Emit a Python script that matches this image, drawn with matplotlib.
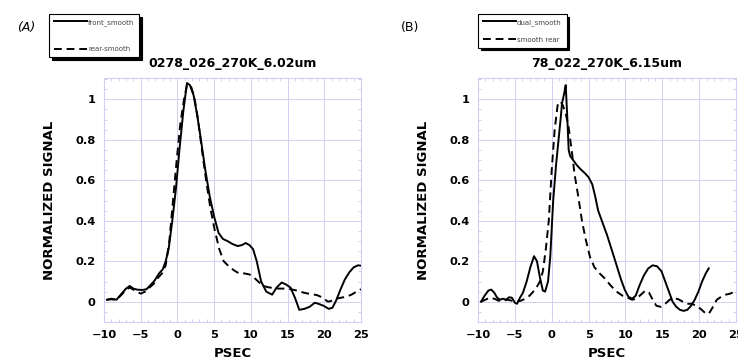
import matplotlib
matplotlib.use("Agg")
import matplotlib.pyplot as plt
from matplotlib.ticker import MultipleLocator, FixedLocator, FixedFormatter

# ---------------- data ----------------
a_title = "0278_026_270K_6.02um"
b_title = "78_022_270K_6.15um"
x_label = "PSEC"
y_label = "NORMALIZED SIGNAL"
x_ticks = [-10, -5, 0, 5, 10, 15, 20, 25]
y_ticks = [0, 0.2, 0.4, 0.6, 0.8, 1.0]
y_tick_labels = ["0", "0.2", "0.4", "0.6", "0.8", "1"]

a_front_x = [-9.6, -9.0, -8.3, -7.6, -7.0, -6.5, -6.0, -5.5, -4.8, -4.2, -3.6, -3.1, -2.5, -2.0,
             -1.6, -1.2, -0.7, -0.2, 0.3, 0.8, 1.3, 1.7, 2.2, 2.7, 3.2, 3.8, 4.4, 5.0, 5.6, 6.2,
             6.8, 7.5, 8.2, 8.8, 9.3, 9.8, 10.3, 10.8, 11.4, 12.1, 12.9, 13.5, 14.2, 14.8, 15.4,
             16.0, 16.6, 17.3, 18.0, 18.7, 19.2, 19.9, 20.6, 21.1, 21.6, 22.2, 22.8, 23.4, 24.0,
             24.6, 25.0]
a_front_y = [0.01, 0.015, 0.01, 0.04, 0.065, 0.078, 0.065, 0.06, 0.058, 0.062, 0.085, 0.105, 0.14,
             0.16, 0.2, 0.26, 0.4, 0.56, 0.76, 0.94, 1.08, 1.07, 1.02, 0.92, 0.8, 0.65, 0.52, 0.42,
             0.34, 0.31, 0.3, 0.285, 0.275, 0.28, 0.29, 0.28, 0.26, 0.2, 0.1, 0.05, 0.035, 0.07,
             0.095, 0.085, 0.07, 0.02, -0.04, -0.035, -0.025, -0.005, -0.01, -0.02, -0.035, -0.03,
             0.005, 0.06, 0.11, 0.145, 0.17, 0.18, 0.178]

a_rear_x = [-9.6, -9.0, -8.3, -7.6, -7.0, -6.5, -6.0, -5.5, -5.0, -4.4, -3.8, -3.2, -2.6, -2.1,
            -1.6, -1.1, -0.6, -0.1, 0.4, 0.9, 1.3, 1.8, 2.3, 2.8, 3.3, 3.9, 4.5, 5.1, 5.7, 6.3,
            7.0, 7.7, 8.4, 9.1, 9.8, 10.4, 11.0, 11.6, 12.3, 13.0, 13.8, 14.6, 15.4, 16.3, 17.2,
            18.1, 19.0, 19.8, 20.5, 21.0, 21.6, 22.3, 23.0, 23.7, 24.4, 25.0]
a_rear_y = [0.01, 0.012, 0.01, 0.035, 0.06, 0.07, 0.06, 0.05, 0.04, 0.05, 0.07, 0.09, 0.12, 0.14,
            0.18, 0.3, 0.5, 0.7, 0.88, 1.0, 1.07, 1.07, 1.01, 0.9, 0.76, 0.6, 0.46, 0.35, 0.26,
            0.2, 0.175, 0.155, 0.14, 0.14, 0.135, 0.12, 0.1, 0.08, 0.072, 0.068, 0.065, 0.065,
            0.062, 0.055, 0.045, 0.038, 0.033, 0.02, 0.0, 0.005, 0.015, 0.02, 0.025, 0.035, 0.05,
            0.062]

b_dual_x = [-9.6, -9.1, -8.6, -8.2, -7.8, -7.4, -7.0, -6.6, -6.2, -5.8, -5.4, -5.0, -4.7, -4.3,
            -3.9, -3.4, -2.9, -2.4, -2.0, -1.6, -1.2, -0.9, -0.5, -0.2, 0.2, 0.6, 0.9, 1.2, 1.4,
            1.7, 1.9, 2.1, 2.3, 2.5, 2.9, 3.4, 3.9, 4.5, 5.0, 5.5, 5.9, 6.3, 6.8, 7.5, 8.2, 8.8,
            9.4, 9.9, 10.4, 10.9, 11.4, 11.9, 12.5, 13.1, 13.7, 14.3, 14.9, 15.4, 15.9, 16.4,
            16.9, 17.4, 17.9, 18.4, 18.9, 19.4, 19.9, 20.4, 20.9, 21.3]
b_dual_y = [0.0, 0.03, 0.055, 0.06, 0.045, 0.02, 0.01, 0.015, 0.01, 0.022, 0.02, -0.005, -0.01,
            0.02, 0.045, 0.1, 0.17, 0.225, 0.2, 0.12, 0.055, 0.05, 0.1, 0.22, 0.5, 0.68, 0.79,
            0.9, 0.98, 1.03, 1.07, 0.92, 0.75, 0.72, 0.7, 0.675, 0.655, 0.635, 0.615, 0.58, 0.52,
            0.45, 0.4, 0.33, 0.25, 0.18, 0.11, 0.06, 0.025, 0.015, 0.03, 0.08, 0.13, 0.165, 0.18,
            0.175, 0.15, 0.1, 0.05, 0.0, -0.025, -0.04, -0.045, -0.04, -0.02, 0.01, 0.05, 0.1,
            0.14, 0.165]

b_rear_x = [-9.6, -9.0, -8.4, -7.8, -7.2, -6.6, -6.0, -5.4, -4.8, -4.2, -3.6, -3.0, -2.5, -2.0,
            -1.6, -1.2, -0.8, -0.4, 0.0, 0.4, 0.8, 1.2, 1.5, 1.9, 2.3, 2.7, 3.1, 3.6, 4.1, 4.6,
            5.2, 5.8, 6.5, 7.2, 8.0, 8.8, 9.6, 10.3, 10.9, 11.5, 12.1, 12.7, 13.2, 13.7, 14.2,
            14.8, 15.4, 16.0, 16.6, 17.2, 17.8, 18.4, 19.0, 19.6, 20.2, 20.8, 21.3, 21.8, 22.4,
            23.0, 23.6, 24.2, 24.8, 25.0]
b_rear_y = [0.0, 0.01, 0.02, 0.015, 0.005, 0.005, 0.01, 0.005, 0.0, 0.005, 0.015, 0.03, 0.05,
            0.075, 0.1, 0.15, 0.26, 0.4, 0.65, 0.85, 0.97, 0.99, 0.97, 0.93, 0.86, 0.75, 0.63,
            0.52, 0.4, 0.31, 0.22, 0.17, 0.14, 0.115, 0.08, 0.05, 0.03, 0.02, 0.01, 0.015, 0.035,
            0.055, 0.045, 0.01, -0.02, -0.025, -0.01, 0.01, 0.018, 0.012, 0.0, -0.01, -0.01, -0.02,
            -0.035, -0.055, -0.06, -0.03, 0.01, 0.025, 0.035, 0.04, 0.05, 0.055]

a_labels = ["front_smooth", "rear-smooth"]
b_labels = ["dual_smooth", "smooth rear"]

# ---------------- style ----------------
plt.rcParams['font.family'] = ['DejaVu Sans']
grid_c = "#d0d0f4"
dash = (0, (4, 2.5))

fig = plt.figure(figsize=(7.38, 3.62), dpi=100)
W, H = 738, 362
axA = fig.add_axes([104 / W, 1 - 322 / H, 257 / W, 244 / H])
axB = fig.add_axes([478 / W, 1 - 322 / H, 258 / W, 244 / H])


def style(ax, title):
    ax.set_xlim(-10, 25)
    ax.set_ylim(-0.1, 1.105)
    ax.xaxis.set_major_locator(FixedLocator(x_ticks))
    ax.xaxis.set_minor_locator(MultipleLocator(1))
    ax.yaxis.set_major_locator(FixedLocator(y_ticks))
    ax.yaxis.set_major_formatter(FixedFormatter(y_tick_labels))
    ax.yaxis.set_minor_locator(MultipleLocator(0.05))
    ax.grid(True, which='major', color=grid_c, lw=0.7)
    ax.tick_params(which='both', direction='in', color=grid_c, top=True, right=True,
                   labelsize=8.2, pad=6)
    ax.tick_params(which='major', length=0)
    ax.tick_params(which='minor', length=2.5, width=0.7)
    for lab in ax.get_xticklabels() + ax.get_yticklabels():
        lab.set_fontweight('bold')
    for s in ax.spines.values():
        s.set_color(grid_c)
        s.set_linewidth(0.8)
    ax.set_title(title, fontsize=9, fontweight='bold', pad=8)
    ax.set_xlabel(x_label, fontsize=9.5, fontweight='bold', labelpad=5)
    ax.set_ylabel(y_label, fontsize=9.5, fontweight='bold', labelpad=14)


def add_legend(ax, handles, labels, left, spacing):
    leg = ax.legend(handles, labels, loc='upper left',
                    bbox_to_anchor=(left / W, 1 - 14 / H), bbox_transform=fig.transFigure,
                    borderaxespad=0,
                    fontsize=5, handlelength=4.8, handletextpad=0.1, labelspacing=spacing,
                    borderpad=0.7, frameon=True, fancybox=False, edgecolor='black',
                    shadow={'color': 'black', 'alpha': 1.0})
    leg.get_frame().set_linewidth(0.8)
    for t in leg.get_texts():
        t.set_color('#444444')
    return leg


hA1, = axA.plot(a_front_x, a_front_y, color='black', lw=1.4)
hA2, = axA.plot(a_rear_x, a_rear_y, color='black', lw=1.4, ls=dash)
style(axA, a_title)
add_legend(axA, [hA1, hA2], a_labels, 49, 3.0)

hB1, = axB.plot(b_dual_x, b_dual_y, color='black', lw=1.4)
hB2, = axB.plot(b_rear_x, b_rear_y, color='black', lw=1.4, ls=dash)
style(axB, b_title)
add_legend(axB, [hB1, hB2], b_labels, 478, 1.6)

fig.text(17 / W, 1 - 28 / H, "(A)", fontsize=9, va='center', ha='left', style='italic')
fig.text(401 / W, 1 - 27 / H, "(B)", fontsize=9, va='center', ha='left')

fig.savefig("out.png", dpi=100)
